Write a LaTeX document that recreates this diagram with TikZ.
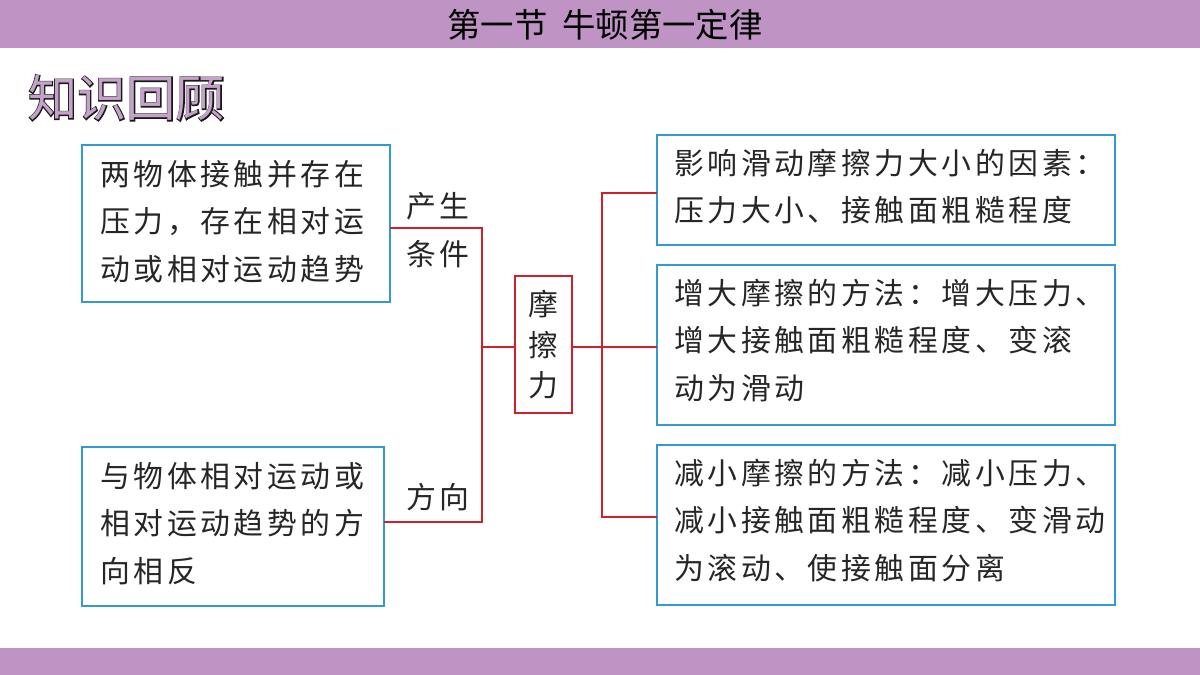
\documentclass[tikz,border=0pt]{standalone}
\usepackage{fontspec}
\newfontfamily\cjk[LetterSpace=12]{Noto Sans CJK SC}
\newfontfamily\cjkplain{Noto Sans CJK SC}
\newfontfamily\cjkbold[FakeBold=4]{Noto Sans CJK SC}
\usetikzlibrary{positioning}
\definecolor{barpurple}{HTML}{BF94C4}
\definecolor{boxblue}{HTML}{2F9BD1}
\definecolor{linered}{HTML}{D0202A}
\definecolor{headfill}{HTML}{C4A2C9}
\tikzset{
  tag/.style={font=\cjk\fontsize{17}{27}\selectfont, text=black!85, align=left},
  link/.style={linered, line width=0.9pt}
}
\begin{document}
\begin{tikzpicture}[x=0.02cm,y=-0.02cm]
  \useasboundingbox (0,0) rectangle (1200,675);
  \fill[barpurple] (0,0) rectangle (1200,48); % top bar
  \fill[barpurple] (0,648) rectangle (1200,675); % bottom bar
  \node[font=\cjkplain\fontsize{19}{20}\selectfont] (title) at (605,25) {第一节\ \ 牛顿第一定律};
  \node[font=\cjkbold\fontsize{28}{30}\selectfont, text=black!90, anchor=west] (headb) at (22,98) {知识回顾};
  \node[font=\cjkplain\fontsize{28}{30}\selectfont, text=headfill, anchor=west] (head) at (22,98) {知识回顾};

  % left boxes
  \draw[boxblue, line width=1.2pt] (82,145) rectangle (390,302);
  \node[tag, anchor=north west] (cond) at (94,154) {两物体接触并存在\\压力，存在相对运\\动或相对运动趋势};
  \draw[boxblue, line width=1.2pt] (82,447) rectangle (384,606);
  \node[tag, anchor=north west] (dir) at (94,456) {与物体相对运动或\\相对运动趋势的方\\向相反};
  \coordinate (c1) at (390,228);
  \coordinate (c2) at (384,522);

  % centre
  \draw[linered, line width=1.2pt] (515,276) rectangle (572,413);
  \node[tag, align=center, font=\cjkplain\fontsize{17}{23}\selectfont] (fric) at (543.5,345) {摩\\擦\\力};
  \coordinate (fl) at (515,347);
  \coordinate (fr) at (572,347);

  % right boxes
  \draw[boxblue, line width=1.2pt] (657,135) rectangle (1115,245);
  \node[tag, anchor=north west] (r1) at (668,143) {影响滑动摩擦力大小的因素：\\压力大小、接触面粗糙程度};
  \draw[boxblue, line width=1.2pt] (657,265) rectangle (1115,425);
  \node[tag, anchor=north west] (r2) at (668,273) {增大摩擦的方法：增大压力、\\增大接触面粗糙程度、变滚\\动为滑动};
  \draw[boxblue, line width=1.2pt] (657,445) rectangle (1115,605);
  \node[tag, anchor=north west] (r3) at (668,453) {减小摩擦的方法：减小压力、\\减小接触面粗糙程度、变滑动\\为滚动、使接触面分离};

  % connectors
  \draw[link] (c1) -- (482,228) -- (482,522) -- (c2);
  \draw[link] (482,347) -- (fl);
  \draw[link] (fr) -- (602,347);
  \draw[link] (657,193) -- (602,193) -- (602,517) -- (657,517);
  \draw[link] (602,347) -- (657,347);
  \node[tag] (why) at (438,230) {产生\\条件};
  \node[tag] (way) at (438,497) {方向};
\end{tikzpicture}
\end{document}
